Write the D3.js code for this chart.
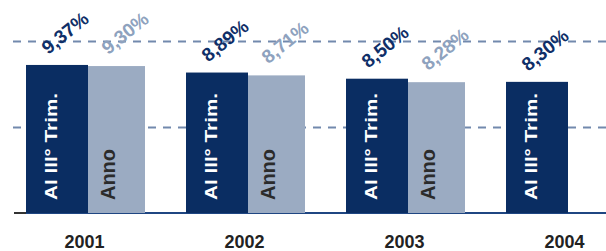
<!DOCTYPE html>
<html>
<head>
<meta charset="utf-8">
<script src="https://cdn.jsdelivr.net/npm/d3@7"></script>
<style>
  body { margin: 0; background: #fff; }
  svg { display: block; font-family: "Liberation Sans", Arial, sans-serif; }
</style>
</head>
<body>
<div id="chart"></div>
<script>
// values
var years = ["2001", "2002", "2003", "2004"];
var trimValues = [9.37, 8.89, 8.50, 8.30];   // Al III° Trim.
var annoValues = [9.30, 8.71, 8.28, null];   // Anno (no 2004)
var trimLabels = ["9,37%", "8,89%", "8,50%", "8,30%"];
var annoLabels = ["9,30%", "8,71%", "8,28%", null];
var gridValues = [5.44, 10.89];

var W = 606, H = 251;
var baseY = 213;

var svg = d3.select("#chart").append("svg")
    .attr("width", W)
    .attr("height", H);

// groups of two bars, 160px apart
var x0 = d3.scaleBand()
    .domain(years)
    .range([26, 625])
    .paddingInner(0.25625)
    .paddingOuter(0);

var y = d3.scaleLinear()
    .domain([0, 10])
    .range([baseY, 55]);

var darkW = x0.bandwidth() * 0.521;
var lightW = x0.bandwidth() - darkW;

var dark = "#0a2d62", light = "#9babc2";

// dashed gridlines
svg.selectAll(".grid")
    .data(gridValues)
    .enter().append("line")
    .attr("class", "grid")
    .attr("x1", 13).attr("x2", W)
    .attr("y1", function(d) { return Math.round(y(d)) + 0.5; })
    .attr("y2", function(d) { return Math.round(y(d)) + 0.5; })
    .attr("stroke", "#7289ad")
    .attr("stroke-width", 2)
    .attr("stroke-dasharray", "8,7");

// baseline
svg.append("line")
    .attr("x1", 14).attr("x2", W)
    .attr("y1", baseY).attr("y2", baseY)
    .attr("stroke", "#1f4682")
    .attr("stroke-width", 2);
svg.append("line")
    .attr("x1", 14).attr("x2", 26)
    .attr("y1", baseY).attr("y2", baseY)
    .attr("stroke", "#333")
    .attr("stroke-width", 2);

var g = svg.selectAll(".year")
    .data(years)
    .enter().append("g")
    .attr("class", "year")
    .attr("transform", function(d) { return "translate(" + x0(d) + ",0)"; });

// Al III° Trim. bars
g.append("rect")
    .attr("x", 0)
    .attr("width", darkW)
    .attr("y", function(d, i) { return y(trimValues[i]); })
    .attr("height", function(d, i) { return baseY - y(trimValues[i]); })
    .attr("fill", dark);

// Anno bars
g.filter(function(d, i) { return annoValues[i] != null; })
  .append("rect")
    .attr("x", darkW)
    .attr("width", lightW)
    .attr("y", function(d) { return y(annoValues[years.indexOf(d)]); })
    .attr("height", function(d) { return baseY - y(annoValues[years.indexOf(d)]); })
    .attr("fill", light);

// text inside bars
g.append("text")
    .attr("transform", "translate(" + (darkW / 2) + ",200) rotate(-90)")
    .attr("font-size", 17)
    .attr("font-weight", "bold")
    .attr("fill", "#fff")
    .attr("textLength", 107)
    .attr("lengthAdjust", "spacingAndGlyphs")
    .text("Al III° Trim.");

g.filter(function(d, i) { return annoValues[i] != null; })
  .append("text")
    .attr("transform", "translate(" + (darkW + lightW / 2 - 1) + ",200) rotate(-90)")
    .attr("font-size", 20)
    .attr("font-weight", "bold")
    .attr("fill", "#2b2b2b")
    .attr("textLength", 51)
    .attr("lengthAdjust", "spacingAndGlyphs")
    .text("Anno");

// value labels, slanted
var angle = -39;
g.append("text")
    .attr("transform", function(d, i) {
        return "translate(" + (darkW / 2 + 8) + "," + (y(trimValues[i]) - 32) + ") rotate(" + angle + ")";
    })
    .attr("text-anchor", "middle")
    .attr("dy", "0.35em")
    .attr("font-size", 19)
    .attr("font-weight", "bold")
    .attr("fill", "#0f2f68")
    .text(function(d, i) { return trimLabels[i]; });

g.filter(function(d, i) { return annoValues[i] != null; })
  .append("text")
    .attr("transform", function(d) {
        var i = years.indexOf(d);
        return "translate(" + (darkW + lightW / 2 + 8.5) + "," + (y(annoValues[i]) - 33) + ") rotate(" + angle + ")";
    })
    .attr("text-anchor", "middle")
    .attr("dy", "0.35em")
    .attr("font-size", 19)
    .attr("font-weight", "bold")
    .attr("fill", "#8ea2be")
    .text(function(d) { return annoLabels[years.indexOf(d)]; });

// year labels
g.append("text")
    .attr("x", x0.bandwidth() / 2 - 1)
    .attr("y", 248)
    .attr("text-anchor", "middle")
    .attr("font-size", 18)
    .attr("font-weight", "bold")
    .attr("fill", "#222")
    .text(function(d) { return d; });
</script>
</body>
</html>
